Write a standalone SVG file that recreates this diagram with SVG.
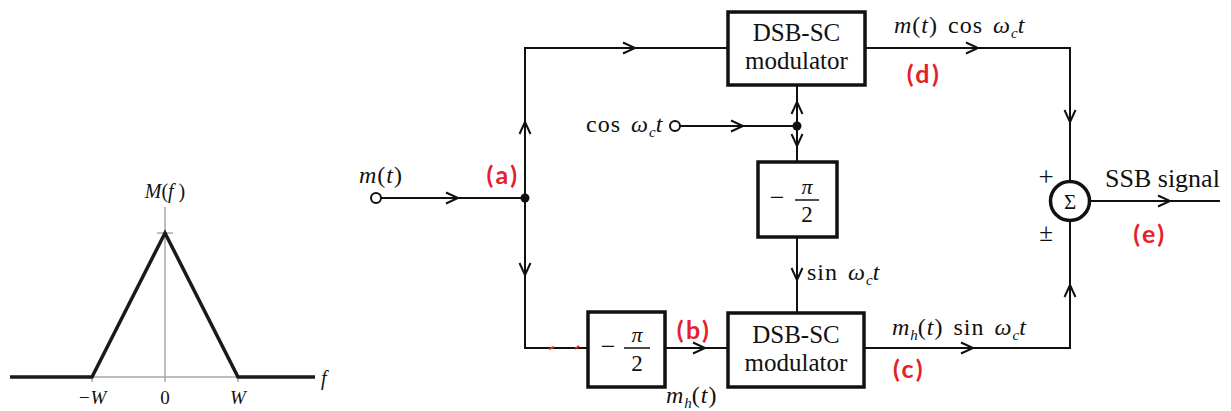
<svg xmlns="http://www.w3.org/2000/svg" width="1231" height="411" viewBox="0 0 1231 411">
<style>
.ln{stroke:#111;stroke-width:2;fill:none}
.box{stroke:#111;stroke-width:3.5;fill:#fff}
.chev{stroke:#111;stroke-width:2;fill:none;stroke-linejoin:miter}
.t{font-family:"Liberation Serif","Times New Roman",serif;fill:#111}
.m{font-size:24px;letter-spacing:1px;word-spacing:3px}
.i{font-style:italic}
.sub{font-style:italic;font-size:15px;letter-spacing:0}
.red{font-family:Lato,"Open Sans","Liberation Sans",sans-serif;font-weight:bold;fill:#e5202a;font-size:25px;letter-spacing:2.5px}
.g{stroke:#a8a8a8;stroke-width:1.5;fill:none}
.k{stroke:#1a1a1a;stroke-width:3.5;fill:none}
</style>
<defs>
<path id="chev" d="M-12,-5.5 L0,0 L-12,5.5"/>
</defs>

<g id="spectrum">
<line class="g" x1="165" y1="207" x2="165" y2="382"/>
<line class="g" x1="92" y1="377" x2="238" y2="377"/>
<line class="g" x1="92" y1="377" x2="92" y2="382"/>
<line class="g" x1="238" y1="377" x2="238" y2="382"/>
<line class="g" x1="157" y1="233" x2="173" y2="233"/>
<polyline class="k" points="10,377 92,377 165,233 238,377 315,377"/>
<text class="t" x="165" y="198" font-size="20" text-anchor="middle"><tspan class="i">M</tspan>(<tspan class="i">f</tspan> )</text>
<text class="t i" x="321" y="385" font-size="20">f</text>
<text class="t i" x="92" y="404" font-size="19" text-anchor="middle">−W</text>
<text class="t" x="165" y="404" font-size="19" text-anchor="middle">0</text>
<text class="t i" x="238" y="404" font-size="19" text-anchor="middle">W</text>
</g>

<g id="connectors">
<line class="ln" x1="381" y1="198" x2="525" y2="198"/>
<polyline class="ln" points="728,48 525,48 525,348 588,348"/>
<line class="ln" x1="665" y1="348" x2="728" y2="348"/>
<line class="ln" x1="680" y1="126" x2="797" y2="126"/>
<line class="ln" x1="797" y1="85" x2="797" y2="162"/>
<line class="ln" x1="797" y1="237" x2="797" y2="313"/>
<polyline class="ln" points="865,48 1070,48 1070,181"/>
<polyline class="ln" points="864,348 1070,348 1070,221"/>
<line class="ln" x1="1090" y1="201" x2="1220" y2="201"/>
<use href="#chev" class="chev" transform="translate(458,198)"/>
<use href="#chev" class="chev" transform="translate(635,48)"/>
<use href="#chev" class="chev" transform="translate(525,122) rotate(-90)"/>
<use href="#chev" class="chev" transform="translate(525,275) rotate(90)"/>
<use href="#chev" class="chev" transform="translate(743,126)"/>
<use href="#chev" class="chev" transform="translate(797,102) rotate(-90)"/>
<use href="#chev" class="chev" transform="translate(797,146) rotate(90)"/>
<use href="#chev" class="chev" transform="translate(797,280) rotate(90)"/>
<use href="#chev" class="chev" transform="translate(978,48)"/>
<use href="#chev" class="chev" transform="translate(1070,122) rotate(90)"/>
<use href="#chev" class="chev" transform="translate(705,348)"/>
<use href="#chev" class="chev" transform="translate(973,348)"/>
<use href="#chev" class="chev" transform="translate(1070,285) rotate(-90)"/>
<use href="#chev" class="chev" transform="translate(1170,201)"/>
<circle cx="525" cy="198" r="4.5" fill="#111"/>
<circle cx="797" cy="126" r="4.5" fill="#111"/>
<path d="M549,349 l5,-2 M575,349 l4,-3" stroke="#e5202a" stroke-width="2" fill="none"/>
</g>

<g id="input-m">
<circle cx="376" cy="198" r="5" fill="#fff" stroke="#111" stroke-width="2"/>
<text class="t m" x="359" y="183"><tspan class="i">m</tspan>(<tspan class="i">t</tspan>)</text>
</g>

<g id="input-cos">
<circle cx="675" cy="126" r="5" fill="#fff" stroke="#111" stroke-width="2"/>
<text class="t m" x="586" y="132" font-size="23">cos <tspan class="i">ω</tspan><tspan class="sub" dy="5">c</tspan><tspan class="i" dy="-5">t</tspan></text>
</g>

<g id="mod-top">
<rect class="box" x="728" y="12" width="137" height="73"/>
<text class="t" x="796.5" y="41" font-size="25" text-anchor="middle">DSB-SC</text>
<text class="t" x="796.5" y="69" font-size="25" text-anchor="middle">modulator</text>
</g>

<g id="shift-mid">
<rect class="box" x="758" y="162" width="79" height="75"/>
<text class="t" x="777" y="206" font-size="26" text-anchor="middle">−</text>
<text class="t i" x="807" y="194" font-size="22" text-anchor="middle">π</text>
<line x1="795" y1="200" x2="819" y2="200" stroke="#111" stroke-width="1.5"/>
<text class="t" x="807" y="222" font-size="23" text-anchor="middle">2</text>
</g>

<g id="shift-low">
<rect class="box" x="588" y="312" width="77" height="75"/>
<text class="t" x="608" y="355" font-size="26" text-anchor="middle">−</text>
<text class="t i" x="637" y="342" font-size="22" text-anchor="middle">π</text>
<line x1="624" y1="348" x2="650" y2="348" stroke="#111" stroke-width="1.5"/>
<text class="t" x="637" y="371" font-size="23" text-anchor="middle">2</text>
</g>

<g id="mod-bottom">
<rect class="box" x="728" y="313" width="136" height="74"/>
<text class="t" x="796" y="343" font-size="25" text-anchor="middle">DSB-SC</text>
<text class="t" x="796" y="371" font-size="25" text-anchor="middle">modulator</text>
</g>

<g id="sum">
<circle cx="1070" cy="201" r="19.5" fill="#fff" stroke="#111" stroke-width="3.5"/>
<text class="t" x="1070" y="209" font-size="21" text-anchor="middle">Σ</text>
<text class="t" x="1046" y="186" font-size="27" text-anchor="middle">+</text>
<text class="t" x="1046" y="241" font-size="25" text-anchor="middle">±</text>
</g>

<g id="labels">
<text class="t m" x="894" y="33"><tspan class="i">m</tspan>(<tspan class="i">t</tspan>) cos <tspan class="i">ω</tspan><tspan class="sub" dy="5">c</tspan><tspan class="i" dy="-5">t</tspan></text>
<text class="t m" x="807" y="280">sin <tspan class="i">ω</tspan><tspan class="sub" dy="5">c</tspan><tspan class="i" dy="-5">t</tspan></text>
<text class="t m" x="892" y="335"><tspan class="i">m</tspan><tspan class="sub" dy="5">h</tspan><tspan dy="-5">(</tspan><tspan class="i">t</tspan>) sin <tspan class="i">ω</tspan><tspan class="sub" dy="5">c</tspan><tspan class="i" dy="-5">t</tspan></text>
<text class="t m" x="666" y="403"><tspan class="i">m</tspan><tspan class="sub" dy="5">h</tspan><tspan dy="-5">(</tspan><tspan class="i">t</tspan>)</text>
<text class="t" x="1105" y="187" font-size="26">SSB signal</text>
<text class="red" x="503" y="184" text-anchor="middle">(a)</text>
<text class="red" x="694" y="339" text-anchor="middle">(b)</text>
<text class="red" x="909" y="378" text-anchor="middle">(c)</text>
<text class="red" x="924" y="83" text-anchor="middle">(d)</text>
<text class="red" x="1150" y="243" text-anchor="middle">(e)</text>
</g>
</svg>
